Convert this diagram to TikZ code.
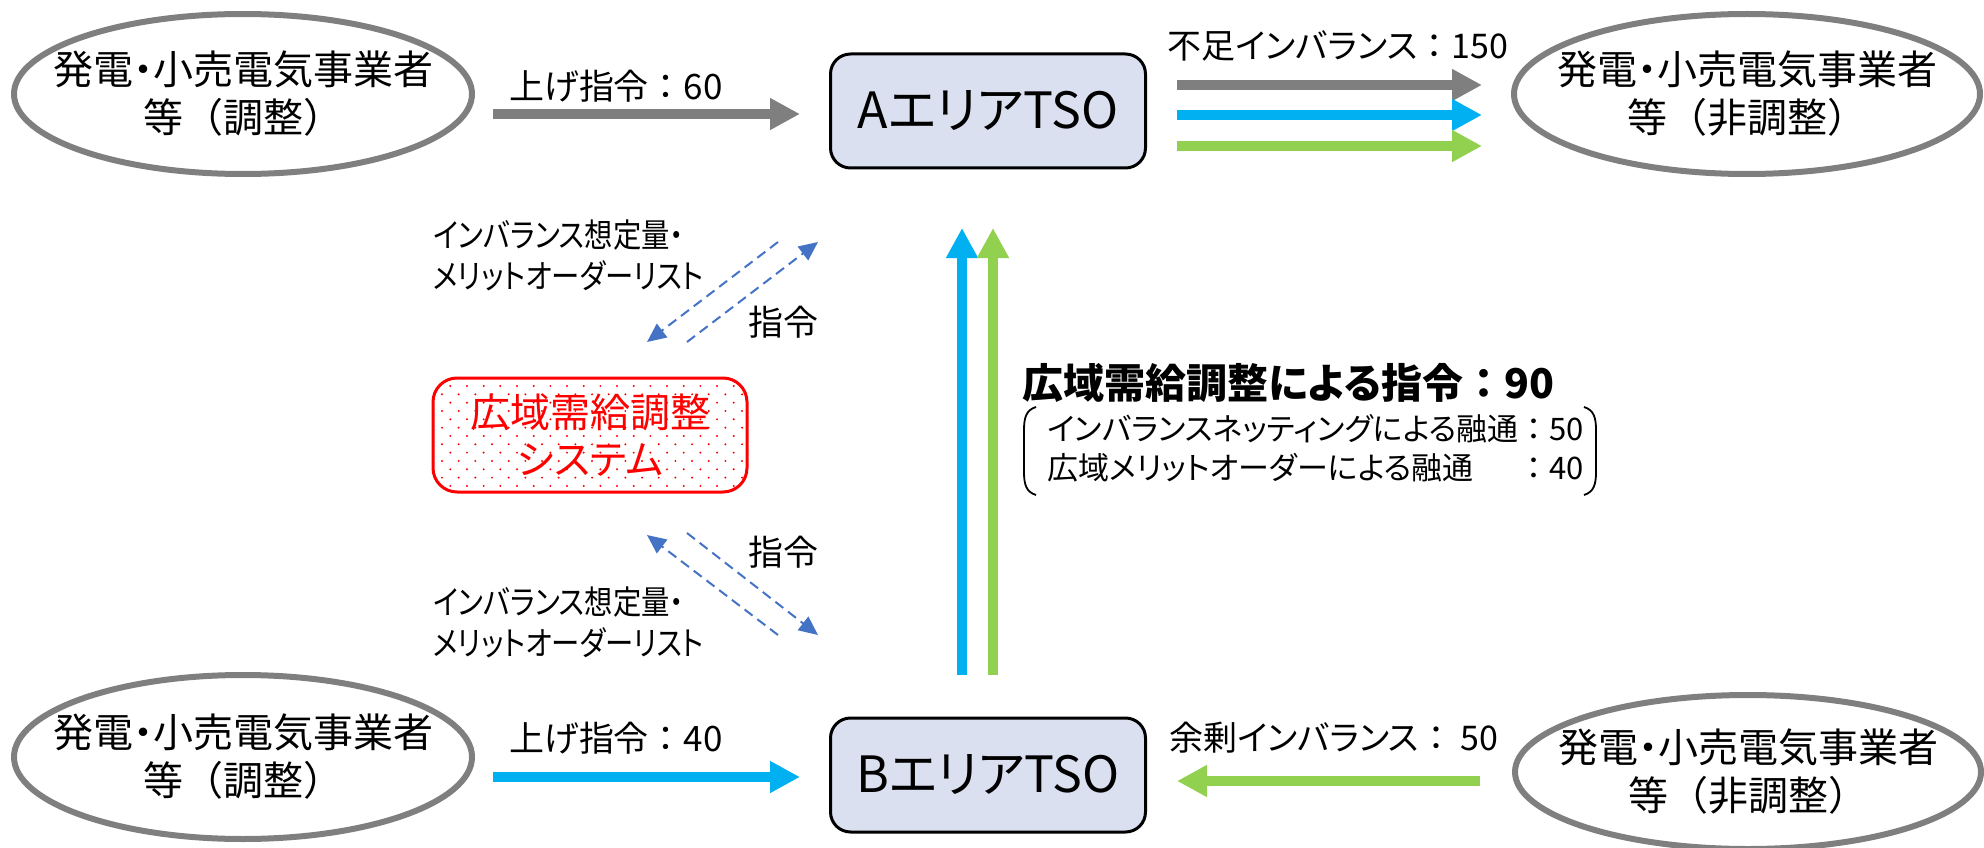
\documentclass[tikz,border=0pt]{standalone}
\usepackage{fontspec}
\setmainfont{Noto Sans CJK JP}[RawFeature=+palt]
\newfontfamily\jpN{Noto Sans CJK JP}
\newfontfamily\jpC{Noto Sans CJK JP}[RawFeature=+palt, FakeStretch=0.86]
\newcommand\fwc{{\jpN ：}}
\usetikzlibrary{arrows.meta}
\definecolor{ellgray}{HTML}{7F7F7F}
\definecolor{cblue}{HTML}{00B0F0}
\definecolor{cgreen}{HTML}{92D050}
\definecolor{tsofill}{HTML}{DAE0F0}
\definecolor{dblue}{HTML}{4472C4}
\definecolor{sysred}{HTML}{FF0000}
\tikzset{
  ell/.style={inner sep=0pt, align=center, font=\fontsize{40}{48}\selectfont},
  ellline/.style={draw=ellgray, line width=6pt},
  tso/.style={rectangle, rounded corners=20pt, draw=black, line width=3pt, fill=tsofill,
    minimum width=315pt, minimum height=114pt, font=\fontsize{50}{60}\selectfont},
  sysbox/.style={rectangle, rounded corners=24pt, draw=sysred, line width=3pt, text=sysred,
    minimum width=314pt, minimum height=114pt, align=center, font=\fontsize{40}{47}\selectfont},
  fat/.style={line width=10pt, -{Triangle[length=30pt,width=30pt]}},
  dash arrow/.style={draw=dblue, line width=2pt, dash pattern=on 10pt off 6pt,
    -{Triangle[length=19pt,width=17pt]}},
  lbl/.style={font=\fontsize{35}{42}\selectfont, inner sep=0pt},
  lbls/.style={font=\fontsize{34}{42}\selectfont, inner sep=0pt},
  lst/.style={font=\fontsize{33}{41}\selectfont\jpC, align=left, anchor=west, inner sep=0pt},
}
\begin{document}
\begin{tikzpicture}[x=1pt,y=-1pt]
\useasboundingbox (0,0) rectangle (1984,848);

% ellipses
\node[ell] (g1) at (243,94) {発電・小売電気事業者\\等{\jpN （}調整{\jpN ）}};
\node[ell] (n1) at (1747,94) {発電・小売電気事業者\\等{\jpN （}非調整{\jpN ）}};
\node[ell] (g2) at (243,757) {発電・小売電気事業者\\等{\jpN （}調整{\jpN ）}};
\node[ell] (n2) at (1748,772) {発電・小売電気事業者\\等{\jpN （}非調整{\jpN ）}};
\draw[ellline] (g1.center) ellipse [x radius=229, y radius=80];
\draw[ellline] (n1.center) ellipse [x radius=233, y radius=80];
\draw[ellline] (g2.center) ellipse [x radius=229, y radius=82];
\draw[ellline] (n2.center) ellipse [x radius=233, y radius=77];

% TSO boxes
\node[tso] (A) at (988,111) {AエリアTSO};
\node[tso] (B) at (988,775) {BエリアTSO};

% system box with dotted fill
\begin{scope}
  \clip[rounded corners=24pt] (433,378) rectangle (747,492);
  \foreach \j [evaluate=\j as \off using {(1-mod(\j,2))*8.33}] in {0,...,13}{
    \foreach \i in {0,...,18}{
      \fill[sysred] (442+\i*16.67+\off, 386+\j*8.33) circle (1.1pt);
    }
  }
\end{scope}
\node[sysbox] (S) at (590,435) {広域需給調整\\システム};

% arrow end coordinates
\coordinate (ga1) at (493,114);  \coordinate (ga2) at (800,114);
\coordinate (gb1) at (493,777);  \coordinate (gb2) at (800,777);
\coordinate (t1s) at (1177,85);  \coordinate (t1e) at (1482,85);
\coordinate (t2s) at (1177,115); \coordinate (t2e) at (1482,115);
\coordinate (t3s) at (1177,146); \coordinate (t3e) at (1482,146);
\coordinate (bgs) at (1480,781); \coordinate (bge) at (1177,781);
\coordinate (vbs) at (962,675);  \coordinate (vbe) at (962,228);
\coordinate (vgs) at (993,675);  \coordinate (vge) at (993,228);

\draw[fat, ellgray] (ga1) -- (ga2);
\draw[fat, cblue] (gb1) -- (gb2);
\draw[fat, ellgray] (t1s) -- (t1e);
\draw[fat, cblue] (t2s) -- (t2e);
\draw[fat, cgreen] (t3s) -- (t3e);
\draw[fat, cgreen] (bgs) -- (bge);
\draw[fat, cblue] (vbs) -- (vbe);
\draw[fat, cgreen] (vgs) -- (vge);

% dashed arrows
\coordinate (u1s) at (778,242); \coordinate (u1e) at (647,342);
\coordinate (u2s) at (687,342); \coordinate (u2e) at (818,242);
\coordinate (l1s) at (778,635); \coordinate (l1e) at (647,535);
\coordinate (l2s) at (687,533); \coordinate (l2e) at (818,635);
\draw[dash arrow] (u1s) -- (u1e);
\draw[dash arrow] (u2s) -- (u2e);
\draw[dash arrow] (l1s) -- (l1e);
\draw[dash arrow] (l2s) -- (l2e);

% labels
\node[lbl] (la1) at (616,86) {上げ指令\fwc 60};
\node[lbl] (la2) at (616,738) {上げ指令\fwc 40};
\node[lbls] (la3) at (1338,46) {不足インバランス\fwc 150};
\node[lbls] (la4) at (1334,738) {余剰インバランス\fwc\ 50};
\node[lst] (ls1) at (433,255) {インバランス想定量・\\メリットオーダーリスト};
\node[lst] (ls2) at (433,622) {インバランス想定量・\\メリットオーダーリスト};
\node[lbl] (c1) at (783,322) {指令};
\node[lbl] (c2) at (783,552) {指令};

% middle explanation
\node[anchor=west, inner sep=0pt, font=\fontsize{41}{48}\selectfont\bfseries] (tt) at (1022,383)
  {広域需給調整による指令{\jpN\bfseries ：}90};
\node[anchor=west, inner sep=0pt, font=\fontsize{31}{40}\selectfont] (st) at (1047,452)
  {\begin{tabular}{@{}l@{}l@{}}インバランスネッティングによる融通&\fwc 50\\[-1pt]広域メリットオーダーによる融通&\fwc 40\end{tabular}};
\coordinate (bl1) at (1036,407); \coordinate (bl2) at (1036,495);
\coordinate (br1) at (1584,407); \coordinate (br2) at (1584,495);
\draw[line width=1.8pt] (bl1) .. controls (1026,410) and (1024,418) .. (1024,430) -- (1024,472) .. controls (1024,484) and (1026,492) .. (bl2);
\draw[line width=1.8pt] (br1) .. controls (1594,410) and (1596,418) .. (1596,430) -- (1596,472) .. controls (1596,484) and (1594,492) .. (br2);
\end{tikzpicture}
\end{document}
